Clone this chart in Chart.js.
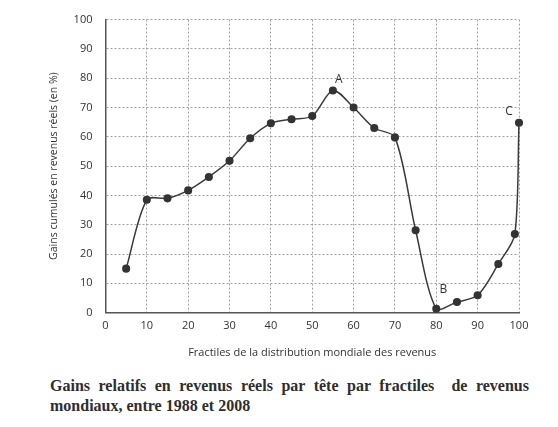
<!DOCTYPE html>
<html>
<head>
<meta charset="utf-8">
<script src="https://cdn.jsdelivr.net/npm/chart.js@4"></script>
<style>
  html, body { margin: 0; padding: 0; background: #fff; }
  #wrap { position: relative; width: 558px; height: 427px; }
  #c { position: absolute; left: 0; top: 0; }
  .cap {
    position: absolute; left: 50px; width: 479px;
    font-family: "Liberation Serif", "DejaVu Serif", serif;
    font-weight: bold; font-size: 16px; line-height: 20px; color: #2e2e2e;
    white-space: nowrap;
  }
  #cap1 { top: 376px; text-align: justify; text-align-last: justify; white-space: normal; }
  #cap2 { top: 396px; }
</style>
</head>
<body>
<div id="wrap">
  <canvas id="c" width="558" height="372"></canvas>
  <div class="cap" id="cap1">Gains relatifs en revenus réels par tête par fractiles&nbsp; de revenus</div>
  <div class="cap" id="cap2">mondiaux, entre 1988 et 2008</div>
</div>
<script>
// Data
const fractiles = [5, 10, 15, 20, 25, 30, 35, 40, 45, 50, 55, 60, 65, 70, 75, 80, 85, 90, 95, 99, 100];
const gains = [15, 38.5, 39, 41.7, 46.3, 51.8, 59.5, 64.6, 66, 67.1, 75.8, 70, 63, 59.8, 28.1, 1.3, 3.6, 5.9, 16.6, 26.8, 64.8];
const markerLabels = ['A', 'B', 'C'];
const markerFractiles = [55, 80, 100];
const xTitle = 'Fractiles de la distribution mondiale des revenus';
const yTitle = 'Gains cumulés en revenus réels (en %)';

const labelOffsets = [[6, -11], [7, -19], [-10, -11]];

const pointLabels = {
  id: 'pointLabels',
  afterDatasetsDraw(chart) {
    const ctx = chart.ctx;
    const xs = chart.scales.x, ys = chart.scales.y;
    ctx.save();
    ctx.font = '12px "Open Sans", sans-serif';
    ctx.fillStyle = '#333';
    ctx.textAlign = 'center';
    ctx.textBaseline = 'middle';
    markerLabels.forEach((lab, i) => {
      const idx = fractiles.indexOf(markerFractiles[i]);
      const px = xs.getPixelForValue(fractiles[idx]);
      const py = ys.getPixelForValue(gains[idx]);
      ctx.fillText(lab, px + labelOffsets[i][0], py + labelOffsets[i][1]);
    });
    ctx.restore();
  }
};

const points = fractiles.map((f, i) => ({ x: f, y: gains[i] }));

new Chart(document.getElementById('c'), {
  type: 'line',
  data: {
    datasets: [{
      data: points,
      borderColor: '#3a3a3a',
      borderWidth: 1.5,
      backgroundColor: '#333',
      pointRadius: 3.3,
      pointBackgroundColor: '#333',
      pointBorderColor: '#333',
      tension: 0.3,
      clip: false,
      fill: false
    }]
  },
  options: {
    responsive: false,
    animation: false,
    events: [],
    layout: { padding: { left: 40, right: 39, top: 14, bottom: 13 } },
    plugins: { legend: { display: false }, tooltip: { enabled: false } },
    scales: {
      x: {
        type: 'linear', min: 0, max: 100,
        ticks: { stepSize: 10, color: '#333', padding: 7, font: { family: '"Open Sans", sans-serif', size: 11 } },
        grid: { color: '#a0a0a0', drawTicks: false, lineWidth: 1 },
        border: { color: '#555', width: 1.5, dash: [2, 2] },
        title: { display: true, text: xTitle, color: '#333', padding: { top: 6, bottom: 0 }, font: { family: '"Open Sans", sans-serif', size: 11 } }
      },
      y: {
        min: 0, max: 100,
        ticks: { stepSize: 10, color: '#333', padding: 13, font: { family: '"Open Sans", sans-serif', size: 11 } },
        grid: { color: '#a0a0a0', drawTicks: false, lineWidth: 1 },
        border: { color: '#555', width: 1.5, dash: [2, 2] },
        title: { display: true, text: yTitle, color: '#333', padding: { top: 8, bottom: 0 }, font: { family: '"Open Sans", sans-serif', size: 10.5 } }
      }
    }
  },
  plugins: [pointLabels]
});
</script>
</body>
</html>
